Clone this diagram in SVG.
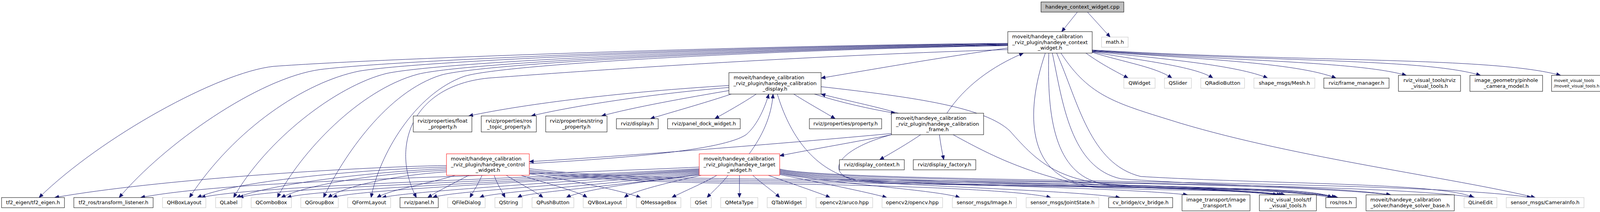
<svg xmlns="http://www.w3.org/2000/svg" width="4147" height="543" viewBox="0 0 4147 543">
<style>
text{font-family:"DejaVu Sans","Liberation Sans",sans-serif;font-size:13px;fill:#000;text-anchor:middle}
text.s{text-anchor:start}
text.sm{font-size:10.5px;text-anchor:start}
.doc rect{fill:#fff;stroke:#000;stroke-width:1}
.ext rect{fill:#fff;stroke:#bfbfbf;stroke-width:1}
.red rect{fill:#fff;stroke:#ff0000;stroke-width:1}
.top rect{fill:#bfbfbf;stroke:#000;stroke-width:1}
#edges path{fill:none;stroke:#191970;stroke-width:1;marker-end:url(#a)}
</style>
<defs>
<marker id="a" markerWidth="12" markerHeight="10" refX="11" refY="4.5" orient="auto" markerUnits="userSpaceOnUse"><path d="M0,0 L11,4.5 L0,9 z" fill="#191970" stroke="#191970" stroke-width="1"/></marker>
</defs>
<rect x="0" y="0" width="4147" height="543" fill="#fff"/>
<g id="edges">
<path d="M2758,31 L2718,81"/>
<path d="M2784,31 L2842,95"/>
<path d="M2580,111 C2000,115 1000,148 700,170 C560,185 260,350 100,506"/>
<path d="M2580,112 C2000,117 1050,150 820,178 C660,200 420,370 305,506"/>
<path d="M2580,113 C2000,119 1100,152 920,182 C780,210 600,330 485,506"/>
<path d="M2580,114 C2000,121 1150,155 990,188 C860,220 680,360 598,506"/>
<path d="M2580,115 C2000,123 1200,158 1070,190 C920,230 770,390 710,506"/>
<path d="M2580,116 C2000,125 1250,160 1130,192 C990,235 880,400 828,506"/>
<path d="M2580,117 C2000,127 1300,163 1190,195 C1060,240 970,400 950,506"/>
<path d="M2580,127 C2000,145 1450,185 1250,200 C1050,220 1000,380 1066,506"/>
<path d="M2580,123 C2420,145 2220,180 2102,200"/>
<path d="M2780,136 C2820,165 2860,185 2888,200"/>
<path d="M2796,134 C2880,160 2960,172 3000,200"/>
<path d="M2796,133 C2920,155 3060,170 3105,200"/>
<path d="M2796,132 C2980,150 3170,168 3245,200"/>
<path d="M2796,131 C3050,150 3320,160 3420,200"/>
<path d="M2796,130 C3150,155 3480,158 3600,193"/>
<path d="M2796,129 C3250,158 3650,150 3790,193"/>
<path d="M2796,128 C3350,160 3820,145 3995,193"/>
<path d="M2676,136 C2620,300 2640,440 2760,468 C2950,490 3150,480 3285,499"/>
<path d="M2685,136 C2680,300 2700,445 2820,470 C3050,488 3330,475 3420,506"/>
<path d="M2694,136 C2720,260 2740,430 2870,458 C3150,478 3420,478 3560,499"/>
<path d="M2705,136 C2760,260 2790,420 2920,452 C3250,472 3700,468 3772,506"/>
<path d="M2716,136 C2790,250 2860,265 3020,315 C3320,405 3720,455 3930,506"/>
<path d="M1866,219 C1600,235 1350,265 1200,297"/>
<path d="M1866,224 C1650,242 1450,275 1360,297"/>
<path d="M1866,232 C1760,250 1620,275 1540,297"/>
<path d="M1872,241 C1800,265 1720,287 1665,304"/>
<path d="M1936,241 C1900,265 1860,287 1830,304"/>
<path d="M2032,241 C2070,265 2110,287 2138,304"/>
<path d="M2085,241 C2150,262 2230,280 2292,290"/>
<path d="M2102,222 C2350,250 2520,275 2585,335 C2660,420 2710,468 2900,478 C3150,488 3350,480 3410,506"/>
<path d="M1990,241 C2020,340 2080,440 2200,462 C2600,482 3100,472 3270,499"/>
<path d="M2300,290 C2240,272 2160,256 2102,241"/>
<path d="M2424,290 C2470,220 2540,170 2620,136"/>
<path d="M2357,345 C2320,370 2285,390 2252,409"/>
<path d="M2405,345 C2408,370 2412,390 2416,409"/>
<path d="M2282,342 C2000,368 1600,400 1355,414"/>
<path d="M2282,345 C2200,362 2080,382 1996,399"/>
<path d="M2282,345 C2150,380 2100,445 2200,465 C2600,485 3250,472 3425,506"/>
<path d="M2440,345 C2540,400 2630,445 2800,480 C3000,490 3200,485 3290,499"/>
<path d="M1355,419 C1600,405 1850,385 1910,345 C1940,320 1960,270 1968,241"/>
<path d="M1143,424 C900,428 400,460 140,506"/>
<path d="M1143,428 C900,435 600,465 505,506"/>
<path d="M1143,432 C950,440 700,470 605,506"/>
<path d="M1143,436 C950,445 780,475 720,506"/>
<path d="M1143,440 C1000,450 880,478 840,506"/>
<path d="M1165,449 C1100,470 1000,485 965,506"/>
<path d="M1200,449 C1160,470 1120,490 1095,506"/>
<path d="M1234,449 C1225,470 1212,490 1203,506"/>
<path d="M1265,449 C1272,470 1285,490 1293,506"/>
<path d="M1296,449 C1330,470 1370,490 1390,506"/>
<path d="M1334,449 C1400,470 1480,490 1503,506"/>
<path d="M1355,445 C1450,460 1580,485 1640,506"/>
<path d="M1355,432 C1500,450 1700,457 2000,459 C2600,464 3300,470 3560,499"/>
<path d="M1355,436 C1500,453 1700,461 2000,463 C2700,469 3300,476 3420,506"/>
<path d="M1355,439 C1500,456 1700,465 2000,467 C2600,473 3100,478 3280,499"/>
<path d="M1355,442 C1500,459 1700,469 2000,471 C2400,477 2620,490 2690,506"/>
<path d="M1918,394 C1950,350 1975,300 1979,241"/>
<path d="M1790,428 C1200,455 600,460 360,506"/>
<path d="M1790,432 C1300,460 650,475 515,506"/>
<path d="M1790,434 C1300,465 700,480 612,506"/>
<path d="M1790,436 C1300,468 800,485 735,506"/>
<path d="M1790,438 C1300,470 900,488 852,506"/>
<path d="M1790,440 C1400,470 1050,490 978,506"/>
<path d="M1790,442 C1450,475 1150,490 1108,506"/>
<path d="M1790,444 C1500,478 1260,492 1228,506"/>
<path d="M1790,446 C1550,480 1350,492 1325,506"/>
<path d="M1790,448 C1600,470 1480,490 1450,506"/>
<path d="M1795,449 C1700,470 1620,490 1598,506"/>
<path d="M1835,449 C1800,470 1750,490 1720,506"/>
<path d="M1864,449 C1848,470 1825,490 1810,506"/>
<path d="M1893,449 L1893,506"/>
<path d="M1927,449 C1950,470 1980,490 1996,506"/>
<path d="M1967,449 C2040,475 2100,495 2125,506"/>
<path d="M1996,447 C2100,468 2220,492 2270,506"/>
<path d="M1996,445 C2150,472 2400,487 2457,506"/>
<path d="M1996,443 C2150,475 2700,482 2867,506"/>
<path d="M1996,441 C2150,474 2800,474 3040,499"/>
<path d="M1996,439 C2150,473 3000,470 3270,499"/>
<path d="M1996,437 C2150,472 3200,467 3410,506"/>
<path d="M1996,435 C2150,471 3500,462 3775,506"/>
<path d="M1996,433 C2150,470 3600,457 3920,506"/>
</g>
<g id="n0" class="top"><rect x="2665" y="5" width="212" height="26"/><text x="2771" y="22">handeye_context_widget.cpp</text></g>
<g id="n1" class="doc"><rect x="2580" y="81" width="216" height="55"/><text class="s" x="2591" y="98">moveit/handeye_calibration</text><text x="2688" y="112.5">_rviz_plugin/handeye_context</text><text x="2688" y="127">_widget.h</text></g>
<g id="n2" class="ext"><rect x="2820" y="95" width="68" height="26"/><text x="2854" y="112">math.h</text></g>
<g id="n3" class="doc"><rect x="1866" y="186" width="236" height="55"/><text class="s" x="1878" y="203">moveit/handeye_calibration</text><text x="1984" y="217.5">_rviz_plugin/handeye_calibration</text><text x="1984" y="232">_display.h</text></g>
<g id="n4" class="ext"><rect x="2877" y="200" width="80" height="26"/><text x="2917" y="217">QWidget</text></g>
<g id="n5" class="ext"><rect x="2981" y="200" width="69" height="26"/><text x="3015.5" y="217">QSlider</text></g>
<g id="n6" class="ext"><rect x="3074" y="200" width="112" height="26"/><text x="3130" y="217">QRadioButton</text></g>
<g id="n7" class="ext"><rect x="3210" y="200" width="156" height="26"/><text x="3288" y="217">shape_msgs/Mesh.h</text></g>
<g id="n8" class="doc"><rect x="3389" y="200" width="167" height="26"/><text x="3472.5" y="217">rviz/frame_manager.h</text></g>
<g id="n9" class="doc"><rect x="3580" y="193" width="159" height="41"/><text x="3659.5" y="210">rviz_visual_tools/rviz</text><text x="3659.5" y="224.5">_visual_tools.h</text></g>
<g id="n10" class="doc"><rect x="3763" y="193" width="186" height="41"/><text x="3856" y="210">image_geometry/pinhole</text><text x="3856" y="224.5">_camera_model.h</text></g>
<g id="n11" class="doc"><rect x="3972" y="193" width="170" height="41"/><text class="sm" x="3978" y="209.5">moveit_visual_tools</text><text class="sm" x="3978" y="224">/moveit_visual_tools.h</text></g>
<g id="n12" class="doc"><rect x="1058" y="297" width="150" height="41"/><text x="1133" y="314">rviz/properties/float</text><text x="1133" y="328.5">_property.h</text></g>
<g id="n13" class="doc"><rect x="1232" y="297" width="141" height="41"/><text x="1302.5" y="314">rviz/properties/ros</text><text x="1302.5" y="328.5">_topic_property.h</text></g>
<g id="n14" class="doc"><rect x="1397" y="297" width="157" height="41"/><text x="1475.5" y="314">rviz/properties/string</text><text x="1475.5" y="328.5">_property.h</text></g>
<g id="n15" class="doc"><rect x="1578" y="304" width="107" height="26"/><text x="1631.5" y="321">rviz/display.h</text></g>
<g id="n16" class="doc"><rect x="1709" y="304" width="186" height="26"/><text x="1802" y="321">rviz/panel_dock_widget.h</text></g>
<g id="n17" class="doc"><rect x="2072" y="304" width="185" height="26"/><text x="2164.5" y="321">rviz/properties/property.h</text></g>
<g id="n18" class="doc"><rect x="2282" y="290" width="236" height="55"/><text class="s" x="2293" y="307">moveit/handeye_calibration</text><text x="2400" y="321.5">_rviz_plugin/handeye_calibration</text><text x="2400" y="336">_frame.h</text></g>
<g id="n19" class="red"><rect x="1143" y="394" width="212" height="55"/><text class="s" x="1154" y="411">moveit/handeye_calibration</text><text x="1249" y="425.5">_rviz_plugin/handeye_control</text><text x="1249" y="440">_widget.h</text></g>
<g id="n20" class="red"><rect x="1790" y="394" width="206" height="55"/><text class="s" x="1801" y="411">moveit/handeye_calibration</text><text x="1893" y="425.5">_rviz_plugin/handeye_target</text><text x="1893" y="440">_widget.h</text></g>
<g id="n21" class="doc"><rect x="2149" y="409" width="166" height="26"/><text x="2232" y="426">rviz/display_context.h</text></g>
<g id="n22" class="doc"><rect x="2338" y="409" width="160" height="26"/><text x="2418" y="426">rviz/display_factory.h</text></g>
<g id="n23" class="doc"><rect x="4" y="506" width="161" height="26"/><text x="84.5" y="523">tf2_eigen/tf2_eigen.h</text></g>
<g id="n24" class="doc"><rect x="189" y="506" width="203" height="26"/><text x="290.5" y="523">tf2_ros/transform_listener.h</text></g>
<g id="n25" class="ext"><rect x="416" y="506" width="111" height="26"/><text x="471.5" y="523">QHBoxLayout</text></g>
<g id="n26" class="ext"><rect x="552" y="506" width="67" height="26"/><text x="585.5" y="523">QLabel</text></g>
<g id="n27" class="ext"><rect x="643" y="506" width="103" height="26"/><text x="694.5" y="523">QComboBox</text></g>
<g id="n28" class="ext"><rect x="770" y="506" width="96" height="26"/><text x="818" y="523">QGroupBox</text></g>
<g id="n29" class="ext"><rect x="890" y="506" width="110" height="26"/><text x="945" y="523">QFormLayout</text></g>
<g id="n30" class="doc"><rect x="1024" y="506" width="98" height="26"/><text x="1073" y="523">rviz/panel.h</text></g>
<g id="n31" class="ext"><rect x="1146" y="506" width="96" height="26"/><text x="1194" y="523">QFileDialog</text></g>
<g id="n32" class="ext"><rect x="1267" y="506" width="70" height="26"/><text x="1302" y="523">QString</text></g>
<g id="n33" class="ext"><rect x="1362" y="506" width="107" height="26"/><text x="1415.5" y="523">QPushButton</text></g>
<g id="n34" class="ext"><rect x="1493" y="506" width="111" height="26"/><text x="1548.5" y="523">QVBoxLayout</text></g>
<g id="n35" class="ext"><rect x="1629" y="506" width="114" height="26"/><text x="1686" y="523">QMessageBox</text></g>
<g id="n36" class="ext"><rect x="1768" y="506" width="53" height="26"/><text x="1794.5" y="523">QSet</text></g>
<g id="n37" class="ext"><rect x="1845" y="506" width="95" height="26"/><text x="1892.5" y="523">QMetaType</text></g>
<g id="n38" class="ext"><rect x="1964" y="506" width="100" height="26"/><text x="2014" y="523">QTabWidget</text></g>
<g id="n39" class="ext"><rect x="2089" y="506" width="145" height="26"/><text x="2161.5" y="523">opencv2/aruco.hpp</text></g>
<g id="n40" class="ext"><rect x="2258" y="506" width="155" height="26"/><text x="2335.5" y="523">opencv2/opencv.hpp</text></g>
<g id="n41" class="ext"><rect x="2438" y="506" width="164" height="26"/><text x="2520" y="523">sensor_msgs/Image.h</text></g>
<g id="n42" class="ext"><rect x="2627" y="506" width="186" height="26"/><text x="2720" y="523">sensor_msgs/JointState.h</text></g>
<g id="n43" class="doc"><rect x="2838" y="506" width="164" height="26"/><text x="2920" y="523">cv_bridge/cv_bridge.h</text></g>
<g id="n44" class="doc"><rect x="3026" y="499" width="174" height="41"/><text x="3113" y="516">image_transport/image</text><text x="3113" y="530.5">_transport.h</text></g>
<g id="n45" class="doc"><rect x="3224" y="499" width="146" height="41"/><text x="3297" y="516">rviz_visual_tools/tf</text><text x="3297" y="530.5">_visual_tools.h</text></g>
<g id="n46" class="doc"><rect x="3394" y="506" width="78" height="26"/><text x="3433" y="523">ros/ros.h</text></g>
<g id="n47" class="doc"><rect x="3497" y="499" width="226" height="41"/><text class="s" x="3508" y="516">moveit/handeye_calibration</text><text x="3610" y="530.5">_solver/handeye_solver_base.h</text></g>
<g id="n48" class="ext"><rect x="3748" y="506" width="84" height="26"/><text x="3790" y="523">QLineEdit</text></g>
<g id="n49" class="ext"><rect x="3856" y="506" width="199" height="26"/><text x="3955.5" y="523">sensor_msgs/CameraInfo.h</text></g>
</svg>
